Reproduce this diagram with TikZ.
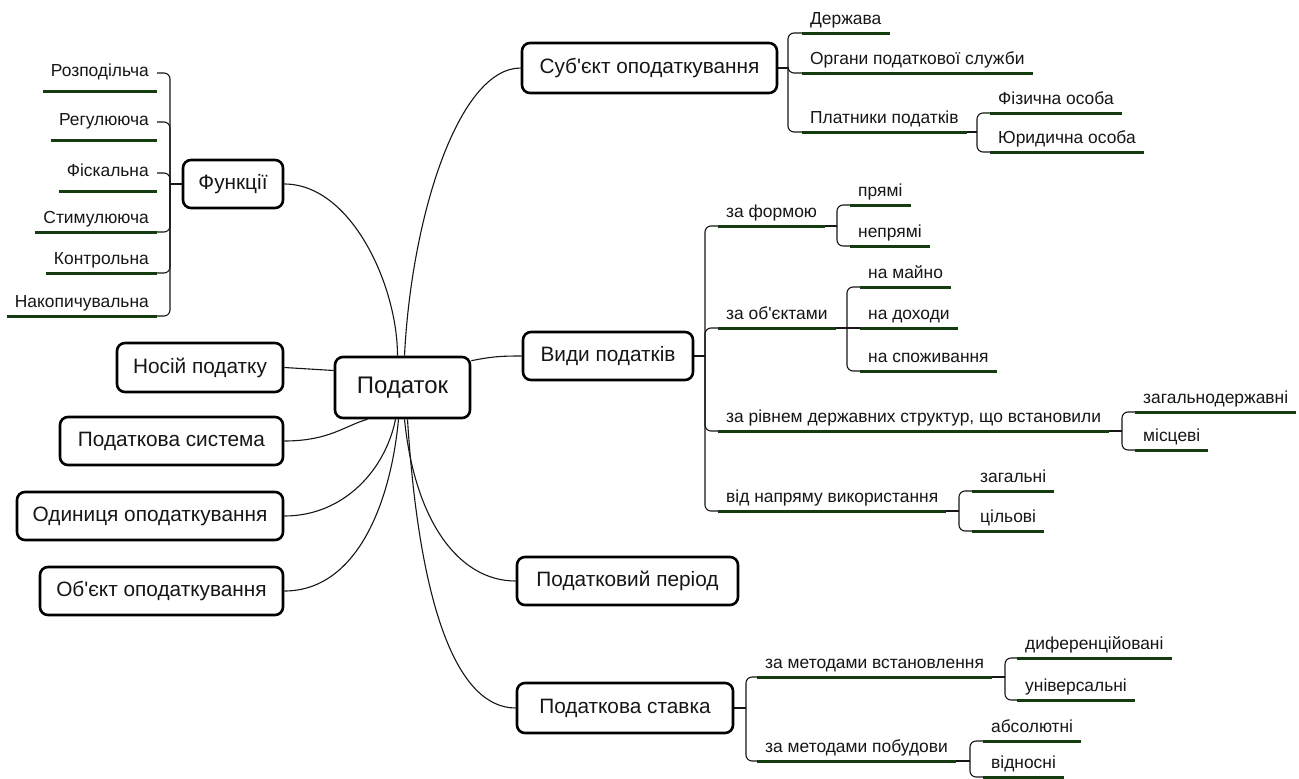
\documentclass[tikz,border=0pt]{standalone}
\usepackage{fontspec}
\setmainfont{Liberation Sans}[Ligatures=TeXOff]
\usetikzlibrary{calc}
\definecolor{ink}{RGB}{22,22,22}
\definecolor{ulinecol}{RGB}{20,60,16}
\pgfdeclarelayer{bg}
\pgfsetlayers{bg,main}

\begin{document}
\begin{tikzpicture}[x=1pt,y=-1pt,
  topic/.style={draw=black,line width=2.6pt,rounded corners=8pt,fill=white,text=ink,
    inner sep=0pt,minimum height=48pt,font=\fontsize{20.8}{24}\selectfont},
  leaf/.style={text=ink,inner xsep=8pt,inner ysep=0pt,text height=12.5pt,text depth=8pt,
    font=\fontsize{17.4}{20}\selectfont},
  leafhi/.style={leaf,text depth=14pt},
  conn/.style={draw=ink,line width=1.1pt},
  branch/.style={conn,rounded corners=6pt},
  uline/.style={draw=ulinecol,line width=3pt}]

\useasboundingbox (0,0) rectangle (1299,779);

% central topic and main topics
\node[topic,minimum width=135pt,minimum height=61pt,font=\fontsize{24}{28}\selectfont] (P) at (402.5,387.5) {Податок};
\node[topic,minimum width=100pt] (F)   at (233,184)   {Функції};
\node[topic,minimum width=166pt,minimum height=49pt] (N) at (200,367.5) {Носій податку};
\node[topic,minimum width=223pt] (Sys) at (171.5,441) {Податкова система};
\node[topic,minimum width=266pt] (O)   at (150,516)   {Одиниця оподаткування};
\node[topic,minimum width=243pt] (Ob)  at (161.5,591) {Об'єкт оподаткування};
\node[topic,minimum width=255pt,minimum height=50pt] (S) at (649.5,68) {Суб'єкт оподаткування};
\node[topic,minimum width=170pt] (V)   at (608,356)   {Види податків};
\node[topic,minimum width=221pt] (Per) at (627.5,581) {Податковий період};
\node[topic,minimum width=216pt,minimum height=50pt] (St) at (625,708) {Податкова ставка};

% functions (left side)
\node[leafhi,anchor=south east] (f1) at (157,91)  {Розподільча};
\node[leafhi,anchor=south east] (f2) at (157,140) {Регулююча};
\node[leafhi,anchor=south east] (f3) at (157,191) {Фіскальна};
\node[leaf,anchor=south east]   (f4) at (157,232) {Стимулююча};
\node[leaf,anchor=south east]   (f5) at (157,273) {Контрольна};
\node[leaf,anchor=south east]   (f6) at (157,316) {Накопичувальна};

% subject of taxation
\node[leaf,anchor=south west] (s1)  at (802,33)  {Держава};
\node[leaf,anchor=south west] (s2)  at (802,73)  {Органи податкової служби};
\node[leaf,anchor=south west] (s3)  at (802,132) {Платники податків};
\node[leaf,anchor=south west] (s31) at (990,113) {Фізична особа};
\node[leaf,anchor=south west] (s32) at (990,152) {Юридична особа};

% kinds of taxes
\node[leaf,anchor=south west] (v1)  at (718,226) {за формою};
\node[leaf,anchor=south west] (v11) at (850,205) {прямі};
\node[leaf,anchor=south west] (v12) at (850,246) {непрямі};
\node[leaf,anchor=south west] (v2)  at (718,328) {за об'єктами};
\node[leaf,anchor=south west] (v21) at (860,287) {на майно};
\node[leaf,anchor=south west] (v22) at (860,328) {на доходи};
\node[leaf,anchor=south west] (v23) at (860,371) {на споживання};
\node[leaf,anchor=south west] (v3)  at (718,431) {за рівнем державних структур, що встановили};
\node[leaf,anchor=south west] (v31) at (1135,412) {загальнодержавні};
\node[leaf,anchor=south west] (v32) at (1135,450) {місцеві};
\node[leaf,anchor=south west] (v4)  at (718,511) {від напряму використання};
\node[leaf,anchor=south west] (v41) at (972,491) {загальні};
\node[leaf,anchor=south west] (v42) at (972,531) {цільові};

% tax rate
\node[leaf,anchor=south west] (t1)  at (757,677) {за методами встановлення};
\node[leaf,anchor=south west] (t11) at (1017,658) {диференційовані};
\node[leaf,anchor=south west] (t12) at (1017,700) {універсальні};
\node[leaf,anchor=south west] (t2)  at (757,761) {за методами побудови};
\node[leaf,anchor=south west] (t21) at (983,741) {абсолютні};
\node[leaf,anchor=south west] (t22) at (983,777) {відносні};

% branch junctions
\coordinate (jF)  at (170,184);
\coordinate (jS)  at (788,68);
\coordinate (jS3) at (977,132);
\coordinate (jV)  at (705,356);
\coordinate (jV1) at (837,226);
\coordinate (jV2) at (847,328);
\coordinate (jV3) at (1122,431);
\coordinate (jV4) at (959,511);
\coordinate (jT)  at (746,708);
\coordinate (jT1) at (1005,677);
\coordinate (jT2) at (970,761);

\begin{pgfonlayer}{bg}
  \fill[white] (0,0) rectangle (1299,779);

  % curved links from the central topic
  \draw[conn] (F.east) .. controls +(67,0) and +(0,-70) .. ([xshift=-5pt]P.north);
  \draw[conn] ([xshift=2pt]P.north) .. controls +(7,-140) and +(-62,0) .. (S.west);
  \draw[conn] ([yshift=-5pt]P.north east) .. controls +(20,-4) and +(-22,0) .. (V.west);
  \draw[conn] (N.east) .. controls +(25,1) and +(-25,-2) .. ([yshift=17pt]P.west);
  \draw[conn] (Sys.east) .. controls +(45,0) and +(-22,6) .. ([xshift=-35pt]P.south);
  \draw[conn] (O.east) .. controls +(60,0) and +(-10,50) .. ([xshift=-7pt]P.south);
  \draw[conn] (Ob.east) .. controls +(72,0) and +(-8,85) .. ([xshift=-4pt]P.south);
  \draw[conn] ([xshift=2pt]P.south) .. controls +(10,100) and +(-58,0) .. (Per.west);
  \draw[conn] ([xshift=5pt]P.south) .. controls +(12,190) and +(-58,0) .. (St.west);

  % functions
  \draw[conn] (F.west) -- (jF);
  \foreach \n in {f1,f2,f3}
    \draw[branch] (jF) |- ($(\n.south east)+(0,-18)$);
  \foreach \n in {f4,f5,f6}
    \draw[branch] (jF) |- (\n.south east);

  % subject of taxation
  \draw[conn] (S.east) -- (jS);
  \foreach \n in {s1,s2,s3}
    \draw[branch] (jS) |- (\n.south west);
  \draw[conn] (s3.south east) -- (jS3);
  \foreach \n in {s31,s32}
    \draw[branch] (jS3) |- (\n.south west);

  % kinds of taxes
  \draw[conn] (V.east) -- (jV);
  \foreach \n in {v1,v2,v3,v4}
    \draw[branch] (jV) |- (\n.south west);
  \draw[conn] (v1.south east) -- (jV1);
  \foreach \n in {v11,v12}
    \draw[branch] (jV1) |- (\n.south west);
  \draw[conn] (v2.south east) -- (v22.south west);
  \foreach \n in {v21,v23}
    \draw[branch] (jV2) |- (\n.south west);
  \draw[conn] (v3.south east) -- (jV3);
  \foreach \n in {v31,v32}
    \draw[branch] (jV3) |- (\n.south west);
  \draw[conn] (v4.south east) -- (jV4);
  \foreach \n in {v41,v42}
    \draw[branch] (jV4) |- (\n.south west);

  % tax rate
  \draw[conn] (St.east) -- (jT);
  \foreach \n in {t1,t2}
    \draw[branch] (jT) |- (\n.south west);
  \draw[conn] (t1.south east) -- (jT1);
  \foreach \n in {t11,t12}
    \draw[branch] (jT1) |- (\n.south west);
  \draw[conn] (t2.south east) -- (jT2);
  \foreach \n in {t21,t22}
    \draw[branch] (jT2) |- (\n.south west);
\end{pgfonlayer}

% underlines of the subtopics
\foreach \n in {f1,f2,f3,f4,f5,f6,s1,s2,s3,s31,s32,
                v1,v11,v12,v2,v21,v22,v23,v3,v31,v32,v4,v41,v42,
                t1,t11,t12,t2,t21,t22}
  \draw[uline] (\n.south west) -- (\n.south east);
\end{tikzpicture}
\end{document}
